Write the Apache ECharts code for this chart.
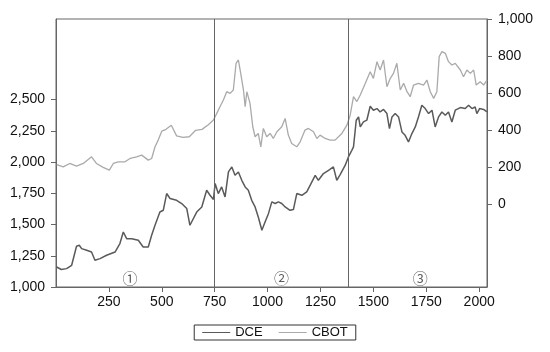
<!DOCTYPE html>
<html>
<head>
<meta charset="utf-8">
<script src="https://cdn.jsdelivr.net/npm/echarts@6/dist/echarts.min.js"></script>
<style>
  html, body { margin: 0; padding: 0; background: #fff; }
  #chart { width: 550px; height: 352px; }
</style>
</head>
<body>
<div id="chart"></div>
<script>
// 观测序号 / 价格（DCE 左轴，CBOT 右轴）
const dceData = [
  [3,1160],[25,1140],[50,1147],[74,1174],[97,1326],[110,1334],[121,1307],[145,1294],
  [168,1280],[184,1214],[208,1227],[239,1254],[279,1280],[302,1348],[318,1440],[334,1387],
  [358,1387],[389,1374],[412,1320],[436,1320],[452,1414],[468,1494],[491,1600],[507,1614],
  [523,1748],[539,1708],[570,1694],[594,1668],[618,1628],[633,1494],[640,1480],[665,1600],
  [689,1640],[712,1774],[728,1734],[744,1700],[752,1828],[767,1748],[783,1801],[799,1721],
  [815,1921],[831,1961],[846,1894],[862,1921],[878,1854],[894,1801],[909,1774],[925,1694],
  [941,1641],[956,1560],[973,1454],[988,1520],[1004,1587],[1020,1681],[1036,1668],[1051,1681],
  [1067,1668],[1083,1641],[1106,1614],[1122,1620],[1138,1748],[1162,1734],[1185,1761],[1201,1814],
  [1225,1894],[1240,1854],[1264,1908],[1288,1934],[1311,1961],[1327,1854],[1343,1900],[1367,1975],
  [1382,2041],[1398,2094],[1406,2121],[1419,2335],[1430,2361],[1438,2281],[1453,2321],[1469,2335],
  [1485,2447],[1500,2415],[1517,2428],[1532,2401],[1548,2421],[1564,2388],[1576,2268],[1588,2361],
  [1603,2388],[1619,2361],[1635,2241],[1650,2214],[1666,2161],[1682,2228],[1698,2281],[1713,2361],
  [1729,2455],[1745,2428],[1761,2388],[1777,2415],[1792,2281],[1808,2361],[1824,2401],[1840,2375],
  [1855,2401],[1871,2321],[1887,2415],[1911,2436],[1934,2428],[1950,2455],[1966,2428],[1981,2441],
  [1989,2388],[2002,2428],[2021,2421],[2037,2401]
];
const cbotData = [
  [3,215],[34,203],[65,221],[97,207],[129,221],[168,257],[191,221],[223,200],
  [252,185],[271,221],[294,230],[326,230],[350,248],[381,257],[405,266],[436,239],
  [452,248],[468,311],[483,347],[500,395],[520,405],[545,427],[570,370],[600,362],
  [630,365],[660,400],[690,405],[720,430],[744,455],[760,491],[775,527],[791,563],
  [807,608],[823,599],[838,617],[851,761],[862,779],[873,707],[886,617],[894,527],
  [902,608],[917,545],[930,419],[941,365],[956,383],[968,311],[980,410],[996,365],
  [1012,383],[1027,356],[1044,392],[1067,419],[1083,464],[1098,374],[1114,329],[1138,311],
  [1154,338],[1177,401],[1193,410],[1217,392],[1233,356],[1248,374],[1272,356],[1296,347],
  [1319,347],[1335,365],[1351,383],[1375,428],[1390,480],[1406,581],[1422,555],[1438,590],
  [1462,653],[1485,716],[1500,680],[1517,770],[1532,725],[1548,779],[1564,635],[1580,680],
  [1595,707],[1611,761],[1627,617],[1643,653],[1659,608],[1674,581],[1690,644],[1713,653],
  [1737,644],[1753,671],[1769,608],[1785,572],[1800,608],[1811,797],[1824,824],[1840,815],
  [1855,770],[1871,752],[1887,761],[1911,725],[1926,689],[1942,725],[1958,707],[1974,725],
  [1986,644],[2005,662],[2021,644],[2037,671]
];
const breakPoints = [748, 1379];
const periodLabels = [[350,1054,'①'],[1066,1054,'②'],[1721,1054,'③']];
const xTicks = [250, 500, 750, 1000, 1250, 1500, 1750, 2000];
const leftTicks = [1000, 1250, 1500, 1750, 2000, 2250, 2500];
const rightTicks = [0, 200, 400, 600, 800, 1000];

const axisColor = '#666';
const font = 'Liberation Sans, Arial, sans-serif';
const fmt = v => v.toLocaleString('en-US');

let myChart = echarts.init(document.getElementById('chart'));
let option = {
  animation: false,
  grid: {
    left: 56, right: 63, top: 19, bottom: 65,
    show: true, borderColor: axisColor, borderWidth: 1
  },
  legend: {
    data: ['DCE', 'CBOT'],
    left: 'center',
    top: 325,
    padding: [1, 8],
    borderColor: '#333',
    borderWidth: 1,
    icon: 'rect',
    itemWidth: 28,
    itemHeight: 1,
    itemGap: 16,
    textStyle: { fontFamily: font, fontSize: 13, color: '#111' }
  },
  xAxis: {
    type: 'value',
    min: 0,
    max: 2037,
    splitLine: { show: false },
    axisLine: { onZero: false, lineStyle: { color: axisColor } },
    axisTick: { customValues: xTicks, length: 5, lineStyle: { color: axisColor } },
    axisLabel: { customValues: xTicks, formatter: v => String(v), fontFamily: font, fontSize: 14, color: '#111', margin: 8 }
  },
  yAxis: [
    {
      type: 'value',
      position: 'left',
      min: 1000,
      max: 3145,
      splitLine: { show: false },
      axisLine: { show: true, onZero: false, lineStyle: { color: axisColor } },
      axisTick: { show: true, customValues: leftTicks, length: 5, lineStyle: { color: axisColor } },
      axisLabel: { customValues: leftTicks, formatter: fmt, fontFamily: font, fontSize: 14, color: '#111', margin: 11 }
    },
    {
      type: 'value',
      position: 'right',
      min: -445,
      max: 1000,
      splitLine: { show: false },
      axisLine: { show: true, onZero: false, lineStyle: { color: axisColor } },
      axisTick: { show: true, customValues: rightTicks, length: 5, lineStyle: { color: axisColor } },
      axisLabel: { customValues: rightTicks, formatter: fmt, fontFamily: font, fontSize: 14, color: '#111', margin: 11 }
    }
  ],
  series: [
    {
      name: 'CBOT',
      type: 'line',
      yAxisIndex: 1,
      data: cbotData,
      symbol: 'none',
      color: '#aaaaaa',
      lineStyle: { width: 1.3, color: '#aaaaaa' },
      z: 2
    },
    {
      name: 'DCE',
      type: 'line',
      yAxisIndex: 0,
      data: dceData,
      symbol: 'none',
      color: '#5a5a5a',
      lineStyle: { width: 1.5, color: '#5a5a5a' },
      z: 3,
      markLine: {
        silent: true,
        symbol: 'none',
        label: { show: false },
        lineStyle: { color: axisColor, width: 1, type: 'solid' },
        data: breakPoints.map(x => ({ xAxis: x }))
      }
    },
    {
      name: 'period',
      type: 'scatter',
      yAxisIndex: 0,
      data: periodLabels,
      symbolSize: 0,
      silent: true,
      label: {
        show: true,
        position: 'inside',
        formatter: p => p.data[2],
        fontFamily: 'DejaVu Serif, Noto Sans CJK SC',
        fontSize: 15,
        color: '#333'
      }
    }
  ]
};
myChart.setOption(option);
</script>
</body>
</html>
